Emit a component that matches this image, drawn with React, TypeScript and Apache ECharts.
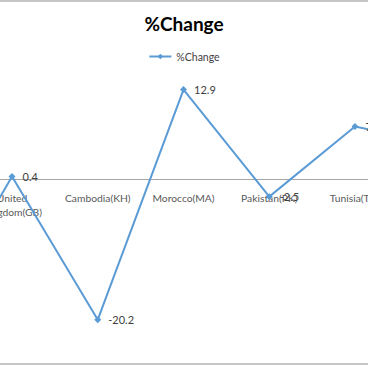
import React, { useEffect, useRef } from "react";
import * as echarts from "echarts";

// Categories (the first and last are cut off in the reference; names unknown)
const categories = ["", "United\nKingdom(GB)", "Cambodia(KH)", "Morocco(MA)", "Pakistan(PK)", "Tunisia(TN)", " "];
const changeValues = [-21, 0.4, -20.2, 12.9, -2.5, 7.6, 5.0];
const seriesName = "%Change";

export default function App() {
  const ref = useRef<HTMLDivElement>(null);
  useEffect(() => {
    if (!ref.current) return;
    const chart = echarts.init(ref.current, null, { renderer: "svg" });
    chart.setOption({
      animation: false,
      backgroundColor: "#ffffff",
      title: {
        text: "%Change",
        left: "center",
        top: 9,
        textStyle: { fontFamily: "Lato", fontWeight: "bold", fontSize: 19, color: "#000000" },
      },
      legend: {
        top: 46,
        left: "center",
        itemWidth: 22,
        itemHeight: 7,
        itemGap: 4,
        textStyle: { fontFamily: "Lato", fontSize: 10.5, color: "#404040" },
        data: [seriesName],
      },
      grid: {
        left: -116.6,
        right: -115.65,
        top: 75,
        bottom: 13,
        containLabel: false,
        outerBoundsMode: "none",
      },
      xAxis: {
        type: "category",
        data: categories,
        boundaryGap: true,
        position: "bottom",
        offset: -173.75,
        axisLine: { onZero: false, lineStyle: { color: "#a6a6a6", width: 1 } },
        axisTick: { show: false },
        axisLabel: {
          interval: 0,
          margin: 12,
          fontFamily: "Lato",
          fontSize: 10.3,
          lineHeight: 14,
          color: "#595959",
          verticalAlign: "top",
        },
      },
      yAxis: {
        type: "value",
        min: -25,
        max: 15,
        interval: 5,
        show: false,
        splitLine: { show: false },
      },
      series: [
        {
          name: seriesName,
          type: "line",
          data: changeValues,
          symbol: "diamond",
          symbolSize: 7,
          showSymbol: true,
          itemStyle: { color: "#5b9bd5" },
          lineStyle: { color: "#5b9bd5", width: 2 },
          label: {
            show: true,
            position: "right",
            distance: 7,
            fontFamily: "Lato",
            fontSize: 11,
            color: "#404040",
          },
        },
      ],
      graphic: [
        { type: "line", shape: { x1: 0, y1: 1, x2: 368, y2: 1 }, style: { stroke: "#b3b3b3", lineWidth: 1.5 } },
        { type: "line", shape: { x1: 0, y1: 364, x2: 368, y2: 364 }, style: { stroke: "#b3b3b3", lineWidth: 1.5 } },
      ],
    });
    return () => chart.dispose();
  }, []);
  return (
    <div
      ref={ref}
      style={{ position: "absolute", left: 0, top: 0, width: 368, height: 366 }}
    />
  );
}
